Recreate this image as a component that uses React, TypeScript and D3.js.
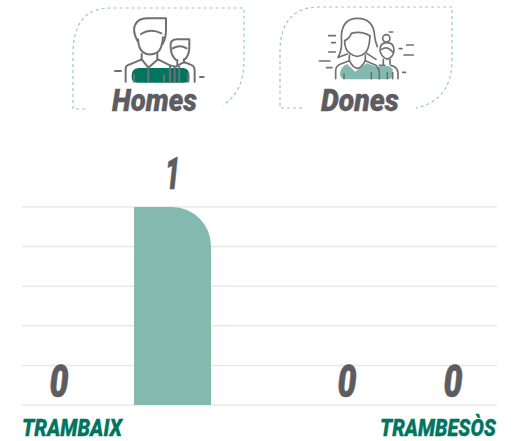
import React from "react";
import * as d3 from "d3";

const categories = ["TRAMBAIX", "", "", "", "TRAMBESÒS"];
const slots = ["a", "b", "c", "d", "e"];
const values: (number | null)[] = [0, 1, null, 0, 0];
const ticks = [0, 0.2, 0.4, 0.6, 0.8, 1];
const legend = ["Homes", "Dones"];

const FONT = "Roboto,sans-serif";
const GRAY = "#5c5c61";
const GREEN = "#00755f";
const BAR = "#84b9b0";
const LINE = "#6f7072";
const labelShift = [-10.5, 8, 0, -7.5, 3.5];

const x = d3.scaleBand().domain(slots).range([22, 497]);
const y = d3.scaleLinear().domain([0, 1]).range([405, 207]);

const ctx = document.createElement("canvas").getContext("2d")!;

function Label({ tx, ty, w, size, fill, bold = 0.7, children }: any) {
  ctx.font = `italic 900 ${size}px ${FONT}`;
  const natural = ctx.measureText(String(children)).width;
  const sx = w / natural;
  return (
    <text transform={`translate(${tx},${ty}) scale(${sx},1)`} fontFamily={FONT}
      fontWeight="900" fontStyle="italic" fontSize={size} fill={fill} stroke={fill} strokeWidth={bold}>{children}</text>
  );
}

function Man() {
  return (
    <g transform="translate(60,0) scale(0.3333)" fill="none" stroke={LINE} strokeWidth={6} strokeLinecap="round" strokeLinejoin="round">
      <path d="M215,246 V226 Q215,206 235,204 H370 Q388,206 388,226 V236 Q388,248 372,248 H232 Q215,248 215,232 Z" fill={GREEN} stroke="none" />
      <path d="M232,122 Q218,95 224,78 Q232,55 262,55 H318 V88 Q318,115 308,132" />
      <path d="M234,118 Q236,148 250,157 Q268,170 292,157 Q306,148 309,112" />
      <path d="M243,102 Q272,84 304,100" />
      <path d="M197,245 V205 Q197,197 210,193 L245,178 L265,203 L294,178 L330,196 Q338,199 348,200 L372,186" />
      <path d="M245,162 V178 M292,162 V178" />
      <path d="M265,203 V245 M222,225 V245 M312,225 V245 M330,196 V245 M344,200 V245 M358,200 V245 M372,186 L392,194 Q404,198 404,212 V245 M385,220 V245" />
      <path d="M348,180 Q332,165 332,140 Q328,120 350,118 H388 V145 Q386,170 372,180" />
      <path d="M338,145 Q360,132 380,145" />
      <path d="M352,180 V198 M372,178 V188" />
      <path d="M165,213 H183 M420,231 H431" />
    </g>
  );
}

function Woman() {
  return (
    <g transform="translate(270,0) scale(0.3333)" fill="none" stroke={LINE} strokeWidth={5} strokeLinecap="round" strokeLinejoin="round">
      <path d="M210,222 Q212,200 232,192 L255,215 L290,190 L320,200 L355,198 L368,206 V225 Q368,238 352,238 H228 Q210,238 210,222 Z" fill={BAR} stroke="none" />
      <path d="M204,172 Q218,150 214,110 Q216,55 262,55 Q312,55 314,110 Q316,125 322,140" />
      <path d="M206,172 L232,162 M290,160 L318,178" />
      <path d="M224,122 Q240,115 244,100 Q275,92 300,108" />
      <path d="M224,122 Q224,150 240,160 Q262,178 284,160 Q298,150 300,108" />
      <path d="M238,165 V182 M286,165 V182" />
      <path d="M197,236 V212 Q197,198 212,192 L238,182 Q262,228 286,182 L318,196 Q326,202 328,215 V236" />
      <path d="M222,222 V236 M304,218 V236 M352,218 V236" />
      <circle cx={349} cy={115} r={11} />
      <path d="M330,150 Q330,128 350,128 Q372,128 372,150 Q372,170 352,178 Q332,170 330,150" />
      <path d="M335,148 Q352,136 368,156" />
      <path d="M340,178 V192 M360,178 V192 M328,196 L345,196 M362,196 Q382,200 384,218 V236 M368,218 V236" />
      <path d="M176,107 H196 M185,128 H196 M176,156 H196 M148,183 H180 M170,203 H186 M358,96 H368 M388,146 H396 M410,135 H430 M402,165 H430 M398,217 H407" />
    </g>
  );
}

export default function App() {
  return (
    <svg width={515} height={441} style={{ position: "absolute", left: 0, top: 0 }}>
      <rect width={515} height={441} fill="#fff" />
      <path d="M85,109 H73 V52 Q74,8 110,8 H244 V60 Q244,92 223,105" fill="none" stroke="#94ccbe" strokeWidth={1.2} strokeDasharray="3 3" />
      <path d="M302,108 H280 V50 Q281,7 320,7 H452 V60 Q452,100 416,108" fill="none" stroke="#94ccbe" strokeWidth={1.2} strokeDasharray="3 3" />
      <Man />
      <Woman />
      <Label tx={112} ty={111} w={85} size={32} fill={GRAY} bold={0.4}>{legend[0]}</Label>
      <Label tx={321} ty={111} w={78} size={32} fill={GRAY} bold={0.4}>{legend[1]}</Label>

      {ticks.map((t) => (
        <line key={t} x1={22} x2={497} y1={y(t)} y2={y(t)} stroke="#e8e8e8" strokeWidth={1.5} />
      ))}

      {values.map((v, i) => {
        if (v === null) return null;
        const bw = x.bandwidth() * 0.81;
        const bx = x(slots[i])! + x.bandwidth() - bw - 1;
        const cx = x(slots[i])! + x.bandwidth() / 2 + labelShift[i];
        const r = 39;
        return (
          <g key={i}>
            {v > 0 && (
              <path d={`M${bx},${y(0)} V${y(v)} H${bx + bw - r} A${r},${r} 0 0 1 ${bx + bw},${y(v) + r} V${y(0)} Z`} fill={BAR} />
            )}
            <Label tx={cx - (v > 0 ? 7.5 : 9.5)} ty={y(v) - (v > 0 ? 18 : 8)} w={v > 0 ? 15 : 19} size={44} fill={GRAY}>{v}</Label>
          </g>
        );
      })}

      <Label tx={22} ty={435.5} w={100} size={24} fill={GREEN} bold={0.3}>{categories[0]}</Label>
      <Label tx={380} ty={435.5} w={116} size={24} fill={GREEN} bold={0.3}>{categories[4]}</Label>
    </svg>
  );
}
